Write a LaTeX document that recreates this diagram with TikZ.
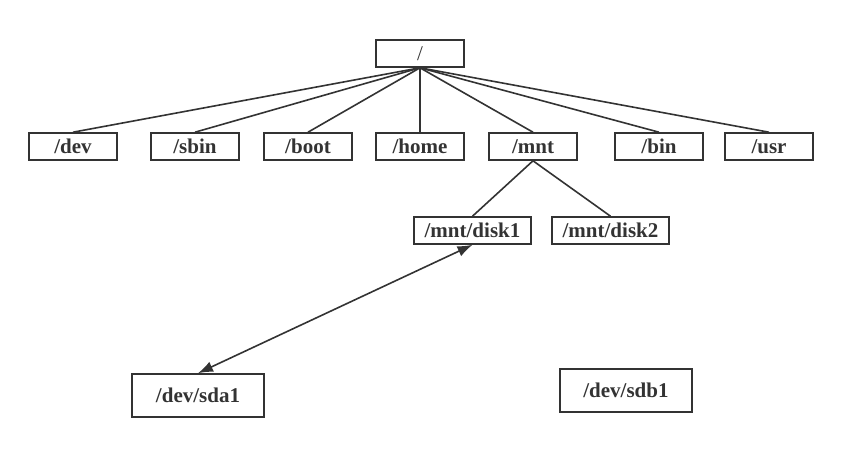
\documentclass[tikz,border=0pt]{standalone}
\usepackage{fontspec}
\setmainfont{Liberation Serif}
\usetikzlibrary{arrows.meta}
\definecolor{ink}{HTML}{333333}
\begin{document}
\begin{tikzpicture}[x=1pt,y=-1pt,
  >={Latex[length=15pt,width=11pt]},
  dirbox/.style={draw=ink,line width=1.6pt,minimum width=88pt,minimum height=27pt,inner sep=0pt,text=ink,font=\fontsize{21}{25}\selectfont\bfseries},
  widebox/.style={dirbox,minimum width=117pt},
  devbox/.style={dirbox,minimum width=132pt,minimum height=43pt},
  link/.style={draw=ink,line width=1.6pt}]
\useasboundingbox (0,0) rectangle (855,453);
\node[dirbox,font=\fontsize{21}{25}\selectfont] (root) at (420,53.5) {/};
\node[dirbox] (dev) at (73,146.5) {/dev};
\node[dirbox] (sbin) at (195,146.5) {/sbin};
\node[dirbox] (boot) at (308,146.5) {/boot};
\node[dirbox] (home) at (420,146.5) {/home};
\node[dirbox] (mnt) at (533,146.5) {/mnt};
\node[dirbox] (bin) at (659,146.5) {/bin};
\node[dirbox] (usr) at (769,146.5) {/usr};
\node[widebox] (disk1) at (472.5,230.5) {/mnt/disk1};
\node[widebox] (disk2) at (610.5,230.5) {/mnt/disk2};
\node[devbox] (sda1) at (198,395.5) {/dev/sda1};
\node[devbox] (sdb1) at (626,390.5) {/dev/sdb1};
\foreach \c in {dev,sbin,boot,home,mnt,bin,usr}
  \draw[link] (root.south) -- (\c.north);
\draw[link] (mnt.south) -- (disk1.north);
\draw[link] (mnt.south) -- (disk2.north);
\draw[link,<->] (disk1.south) -- (sda1.north);
\end{tikzpicture}
\end{document}
